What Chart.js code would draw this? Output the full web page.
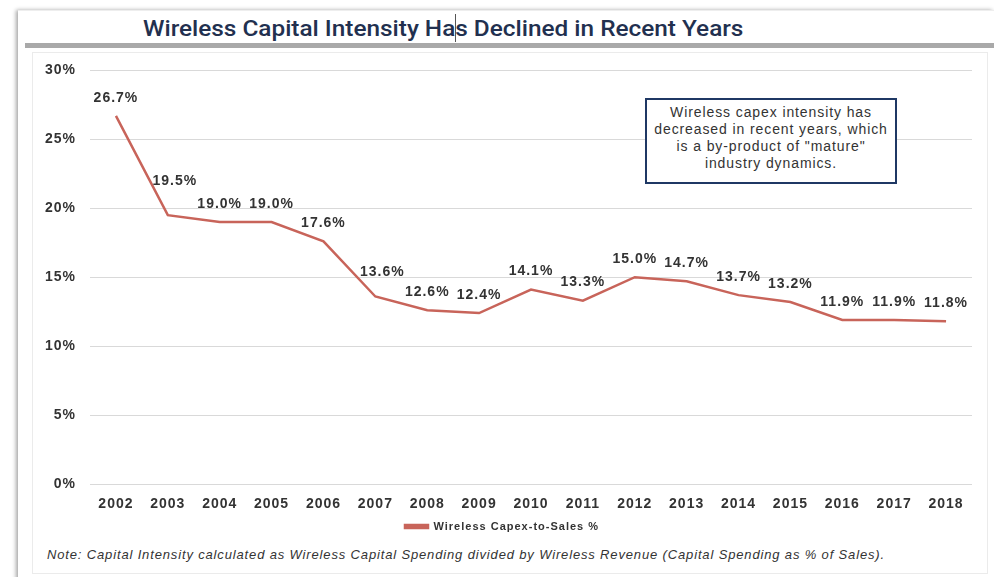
<!DOCTYPE html>
<html>
<head>
<meta charset="utf-8">
<script src="https://cdn.jsdelivr.net/npm/chart.js@4"></script>
<style>
  body { margin: 0; background: #fff; width: 994px; height: 577px; overflow: hidden; position: relative; font-family: "Liberation Sans", Arial, sans-serif; }
  .card { position: absolute; left: 18px; top: 10px; width: 976px; height: 580px; background: #fff; box-shadow: -2px 0 4px rgba(0,0,0,0.35); border-top: 1px solid #eee; }
  .title { position: absolute; left: 143px; top: 16px; font-family: Roboto, sans-serif; font-weight: 500; font-size: 22px; color: #22304f; white-space: nowrap; transform-origin: 0 0; }
  .cursor { position: absolute; left: 455px; top: 14px; width: 1px; height: 28px; background: #555; }
  .bar { position: absolute; left: 25px; top: 43px; width: 969px; height: 5px; background: #a9a9a9; }
  .inner { position: absolute; left: 32px; top: 52px; width: 954px; height: 520px; border: 1px solid #ebebeb; }
  #chart { position: absolute; left: 32px; top: 48px; }
  .note { position: absolute; left: 47px; top: 547px; font-size: 13px; letter-spacing: 0.85px; font-style: italic; color: #333; white-space: nowrap; }
  .callout { position: absolute; left: 645px; top: 98px; width: 248px; height: 78px; border: 2px solid #1f3864; background: #fff; text-align: center; font-size: 14px; letter-spacing: 0.9px; line-height: 17px; color: #333; padding-top: 4px; box-sizing: content-box; }
</style>
</head>
<body>
<div class="card"></div>
<div class="title" id="title">Wireless Capital Intensity Has Declined in Recent Years</div>
<div class="cursor"></div>
<div class="bar"></div>
<div class="inner"></div>
<canvas id="chart" width="956" height="499"></canvas>
<div class="callout">Wireless capex intensity has<br>decreased in recent years, which<br>is a by-product of "mature"<br>industry dynamics.</div>
<div class="note">Note: Capital Intensity calculated as Wireless Capital Spending divided by Wireless Revenue (Capital Spending as % of Sales).</div>
<script>
const years = ['2002', '2003', '2004', '2005', '2006', '2007', '2008', '2009', '2010',
               '2011', '2012', '2013', '2014', '2015', '2016', '2017', '2018'];
const capexToSales = [26.7, 19.5, 19.0, 19.0, 17.6, 13.6, 12.6, 12.4, 14.1,
                      13.3, 15.0, 14.7, 13.7, 13.2, 11.9, 11.9, 11.8];
const yTicks = [0, 5, 10, 15, 20, 25, 30];

const lineColor = '#c8645a';
const fontFamily = '"Liberation Sans", Arial, sans-serif';

// squeeze the heading into its 600px slot
const titleEl = document.getElementById('title');
titleEl.style.transform = 'scaleX(' + (600 / titleEl.offsetWidth) + ')';

// wide tracking for every text drawn on the canvas
const tracking = {
    id: 'tracking',
    beforeUpdate(chart) { chart.ctx.letterSpacing = '1px'; },
    beforeDraw(chart) { chart.ctx.letterSpacing = '1px'; }
};

// value labels above each point; pushed up and right after a steep drop
const pointLabels = {
    id: 'pointLabels',
    afterDatasetsDraw(chart) {
        const ctx = chart.ctx;
        const meta = chart.getDatasetMeta(0);
        ctx.save();
        ctx.font = 'bold 14px ' + fontFamily;
        ctx.fillStyle = '#333';
        ctx.textAlign = 'center';
        ctx.textBaseline = 'middle';
        meta.data.forEach((pt, i) => {
            const drop = i > 0 ? capexToSales[i - 1] - capexToSales[i] : 0;
            const dx = drop > 2 ? 7 : 0;
            const dy = 18 + Math.max(0, drop - 2) * 3;
            ctx.fillText(capexToSales[i].toFixed(1) + '%', pt.x + dx, pt.y - dy);
        });
        ctx.restore();
    }
};

const ctx = document.getElementById('chart').getContext('2d');

new Chart(ctx, {
    type: 'line',
    data: {
        labels: years,
        datasets: [{
            label: 'Wireless Capex-to-Sales %',
            data: capexToSales,
            borderColor: lineColor,
            backgroundColor: lineColor,
            borderWidth: 2.5,
            pointRadius: 0,
            tension: 0
        }]
    },
    options: {
        responsive: false,
        animation: false,
        layout: { padding: { top: 10, right: 16, left: 0, bottom: 5 } },
        scales: {
            x: {
                offset: true,
                afterFit(scale) { scale.height = 32; },
                grid: { display: false, drawTicks: false },
                border: { display: false },
                ticks: {
                    color: '#333',
                    padding: 12,
                    maxRotation: 0,
                    font: { family: fontFamily, size: 14, weight: 'bold' }
                }
            },
            y: {
                min: 0,
                max: 30,
                afterFit(scale) { scale.width = 58; },
                afterBuildTicks(scale) { scale.ticks = yTicks.map(v => ({ value: v })); },
                grid: { color: '#d9d9d9', lineWidth: 1, drawTicks: false },
                border: { display: false },
                ticks: {
                    color: '#333',
                    padding: 14,
                    callback: v => v + '%',
                    font: { family: fontFamily, size: 14, weight: 'bold' }
                }
            }
        },
        plugins: {
            legend: {
                position: 'bottom',
                labels: {
                    boxWidth: 23,
                    boxHeight: 3,
                    padding: 5,
                    color: '#333',
                    font: { family: fontFamily, size: 11, weight: 'bold' }
                }
            },
            tooltip: { enabled: false }
        }
    },
    plugins: [tracking, pointLabels]
});
</script>
</body>
</html>
